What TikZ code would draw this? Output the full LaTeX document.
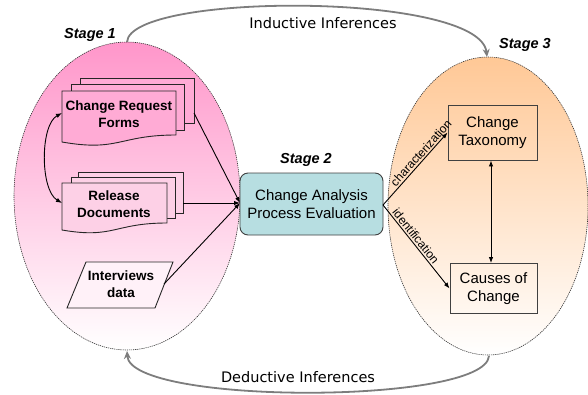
\documentclass[tikz,border=0pt]{standalone}
\usepackage{fontspec}
\setmainfont{Liberation Sans}
\newfontfamily\comicf{DejaVu Sans}
\usetikzlibrary{arrows.meta,shapes.geometric}
\definecolor{pinktop}{RGB}{255,150,202}
\definecolor{pinkmid}{RGB}{253,200,226}
\definecolor{orangetop}{RGB}{255,200,150}
\definecolor{orangemid}{RGB}{255,226,200}
\definecolor{tealbox}{RGB}{183,222,225}
\definecolor{arcgray}{RGB}{125,125,125}
\definecolor{boxline}{RGB}{64,64,64}
\tikzset{
  stagecloud/.style={draw=black!80, line width=0.6pt, dash pattern=on 1.2pt off 0.9pt},
  infarc/.style={draw=arcgray, line width=1.8pt, -{Stealth[length=8pt,width=7pt]}},
  pagebox/.style={draw=black!85, line width=0.9pt},
  doclabel/.style={font=\fontsize{13.5}{16.5}\selectfont\bfseries, align=center, inner sep=0pt},
  stagelabel/.style={font=\fontsize{14.5}{17}\selectfont\bfseries\itshape, inner sep=0pt},
  inflabel/.style={font=\comicf\fontsize{14.5}{17}\selectfont, inner sep=0pt},
  edgelabel/.style={font=\fontsize{12}{13}\selectfont, inner sep=1.5pt},
  conn/.style={draw=black, line width=0.9pt, -{Latex[length=6pt,width=4.5pt]}},
  dconn/.style={draw=black, line width=0.9pt, {Latex[length=6pt,width=4.5pt]}-{Latex[length=6pt,width=4.5pt]}},
  catbox/.style={draw=boxline, line width=0.9pt, minimum width=89pt, inner sep=0pt, font=\fontsize{15}{18}\selectfont, align=center},
}
\begin{document}
\begin{tikzpicture}[x=1pt,y=-1pt]
\useasboundingbox (0,0) rectangle (588,394);

% stage ellipses
\path[stagecloud, top color=pinktop, middle color=pinkmid, bottom color=white, shading angle=0]
  (127,196) ellipse [x radius=113, y radius=154];
\path[stagecloud, top color=orangetop, middle color=orangemid, bottom color=white, shading angle=0]
  (488,206) ellipse [x radius=100, y radius=149];
\coordinate (s1top) at (127,42);
\coordinate (s1bot) at (127,351);
\coordinate (s3top) at (487,57);
\coordinate (s3bot) at (489,356);

% inference arcs
\draw[infarc] (s1top) .. controls (130,-8) and (480,-8) .. (s3top);
\draw[infarc] (s3bot) .. controls (485,405) and (130,405) .. (s1bot);
\node[inflabel] (ind) at (323,23) {Inductive Inferences};
\node[inflabel] (ded) at (298,377) {Deductive Inferences};

% stage labels
\node[stagelabel] (st1) at (90,35) {Stage 1};
\node[stagelabel] (st2) at (306,160) {Stage 2};
\node[stagelabel] (st3) at (525,45) {Stage 3};

% Change Request Forms (stacked documents)
\draw[pagebox, fill=pinktop!80!white] (80,78) rectangle (194,123);
\draw[pagebox, fill=pinktop!80!white] (71,84) rectangle (184,130);
\filldraw[pagebox, fill=pinktop!80!white] (62,91) -- (176,91) -- (176,135)
  .. controls (119,135) and (119,152) .. (62,142) -- cycle;
\node[doclabel] (crf) at (119,114) {Change Request\\Forms};
\coordinate (crfout) at (194,113);
\coordinate (crfin) at (62,113);

% Release Documents (stacked documents)
\draw[pagebox, fill=pinkmid!85!white] (78,172) rectangle (183,213);
\draw[pagebox, fill=pinkmid!85!white] (71,177) rectangle (175,218);
\filldraw[pagebox, fill=pinkmid!85!white] (62,183) -- (167,183) -- (167,223)
  .. controls (114,223) and (114,239) .. (62,230) -- cycle;
\node[doclabel] (rd) at (114,204) {Release\\Documents};
\coordinate (rdout) at (183,203);
\coordinate (rdin) at (62,203);

% Interviews data
\filldraw[pagebox, fill=pinkmid!25!white] (86,262) -- (173,262) -- (155,308) -- (67,308) -- cycle;
\node[doclabel] (intv) at (121,284) {Interviews\\data};
\coordinate (intvout) at (164,284);

% Stage 2 box
\node[draw=boxline, line width=0.9pt, fill=tealbox, rounded corners=8pt,
      minimum width=143pt, minimum height=62pt, inner sep=0pt,
      font=\fontsize{15}{18}\selectfont, align=center] (cap) at (311.5,204)
  {Change Analysis\\Process Evaluation};
\coordinate (capin) at (240,203);
\coordinate (capout) at (383,205);

% Stage 3 boxes
\node[catbox, minimum height=55pt] (tax) at (492.5,132.5) {Change\\Taxonomy};
\node[catbox, minimum width=87pt, minimum height=50pt] (coc) at (493.5,288.5) {Causes of\\Change};

% connectors
\draw[dconn] (crfin) .. controls (40,125) and (40,190) .. (rdin);
\draw[conn] (crfout) -- (capin);
\draw[conn] (rdout) -- (capin);
\draw[conn] (intvout) -- (capin);
\draw[conn] (capout) -- node[edgelabel, sloped, above, pos=0.66] {characterization} (tax.west);
\draw[conn] (capout) -- node[edgelabel, sloped, above, pos=0.42] {identification} (coc.west);
\draw[dconn] ([xshift=-1.5pt]tax.south) -- ([xshift=-2.5pt]coc.north);
\end{tikzpicture}
\end{document}
